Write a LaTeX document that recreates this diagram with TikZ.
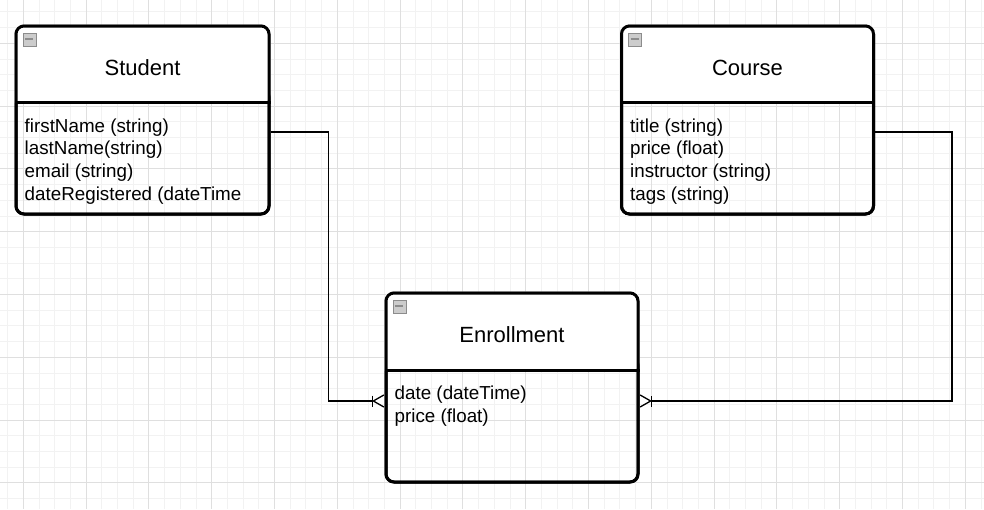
\documentclass[tikz,border=0pt]{standalone}
\usepackage{fontspec}
\setmainfont{Liberation Sans}
\usetikzlibrary{calc,arrows.meta,positioning}
\definecolor{gridlight}{HTML}{F2F2F2}
\definecolor{griddark}{HTML}{DFDFDF}
\tikzset{%
    gridminor/.style={%
        draw=gridlight, line width=1pt
    },
    gridmajor/.style={%
        draw=griddark, line width=1pt
    },
    entity/.style={%
        draw, line width=3pt, rounded corners=8pt, minimum width=252pt, minimum height=188pt, inner sep=0pt
    },
    header/.style={%
        fill=white
    },
    divider/.style={%
        line width=3pt
    },
    title/.style={%
        font=\fontsize{22}{26}\selectfont, anchor=base, inner sep=0pt
    },
    attrs/.style={%
        font=\fontsize{18.8}{22.7}\selectfont, align=left, anchor=base west, inner sep=0pt
    },
    toggle/.style={%
        draw=gray!90, fill=gray!40, minimum size=13pt, inner sep=0pt, anchor=north west,
        path picture={\draw[line width=1.8pt] ([xshift=2.5pt]path picture bounding box.west) -- ([xshift=-2.5pt]path picture bounding box.east);}
    },
    relation/.style={%
        line width=1.5pt
    },
    crowfoot/.style={%
        -{Bar[width=11pt,line width=1.5pt,sep=-1pt]Straight Barb[reversed,length=10.5pt,width=12pt,line width=1.3pt]}
    },
}
\begin{document}
\begin{tikzpicture}[x=1pt,y=-1pt]

    \useasboundingbox (0,0) rectangle (984,509);

    % background grid
    \foreach \i in {0,...,62} {
      \draw[gridminor] ({7.6+15.7*\i},0) -- ({7.6+15.7*\i},509);
    }
    \foreach \i in {0,...,32} {
      \draw[gridminor] (0,{11.9+15.7*\i}) -- (984,{11.9+15.7*\i});
    }
    \foreach \i in {0,...,15} {
      \draw[gridmajor] ({23.3+62.8*\i},0) -- ({23.3+62.8*\i},509);
    }
    \foreach \i in {0,...,7} {
      \draw[gridmajor] (0,{43.3+62.8*\i}) -- (984,{43.3+62.8*\i});
    }

    \begin{scope}
      \node[entity, minimum width=253pt] (student) at (142.5,120) {};
      \fill[header] ([yshift=-78pt]student.north west) [rounded corners=8pt] |- (student.north) -| ([yshift=-78pt]student.north east) [sharp corners] -- cycle;
      \node[entity, minimum width=253pt] at (student) {};
      \draw[divider] ([yshift=-78pt]student.north west) -- ([yshift=-78pt]student.north east);
      \node[toggle] (student toggle) at ([shift={(8pt,-8pt)}]student.north west) {};
      \node[title] (student title) at ([yshift=-50.8pt]student.north) {Student};
      % base = last line
      \node[attrs] (student attrs) at ([shift={(10pt,-175.6pt)}]student.north west) {firstName (string)\\lastName(string)\\email (string)\\dateRegistered (dateTime};
    \end{scope}

    \begin{scope}
      \node[entity] (course) at (747.5,120) {};
      \fill[header] ([yshift=-78pt]course.north west) [rounded corners=8pt] |- (course.north) -| ([yshift=-78pt]course.north east) [sharp corners] -- cycle;
      \node[entity] at (course) {};
      \draw[divider] ([yshift=-78pt]course.north west) -- ([yshift=-78pt]course.north east);
      \node[toggle] (course toggle) at ([shift={(8pt,-8pt)}]course.north west) {};
      \node[title] (course title) at ([yshift=-50.8pt]course.north) {Course};
      \node[attrs] (course attrs) at ([shift={(10pt,-175.6pt)}]course.north west) {title (string)\\price (float)\\instructor (string)\\tags (string)};
    \end{scope}

    \begin{scope}
      \node[entity, minimum height=189pt] (enrollment) at (512,387.5) {};
      \fill[header] ([yshift=-79pt]enrollment.north west) [rounded corners=8pt] |- (enrollment.north) -| ([yshift=-79pt]enrollment.north east) [sharp corners] -- cycle;
      \node[entity, minimum height=189pt] at (enrollment) {};
      \draw[divider] ([yshift=-79pt]enrollment.north west) -- ([yshift=-79pt]enrollment.north east);
      \node[toggle] (enrollment toggle) at ([shift={(8pt,-8pt)}]enrollment.north west) {};
      \node[title] (enrollment title) at ([yshift=-50.5pt]enrollment.north) {Enrollment};
      \node[attrs] (enrollment attrs) at ([shift={(10pt,-131pt)}]enrollment.north west) {date (dateTime)\\price (float)};
    \end{scope}

    \draw[relation, crowfoot] ([yshift=-12pt]student.east) -- ++(58pt,0) |- ([yshift=-13.5pt]enrollment.west);
    \draw[relation, crowfoot] ([yshift=-12pt]course.east) -- ++(77pt,0) |- ([yshift=-13.5pt]enrollment.east);

\end{tikzpicture}
\end{document}
